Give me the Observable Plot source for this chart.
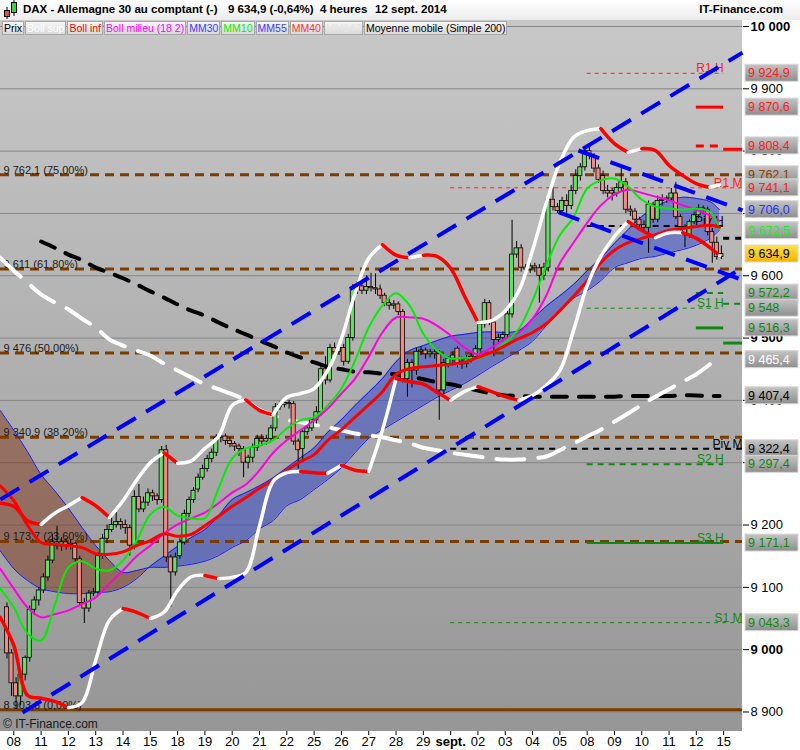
<!DOCTYPE html>
<html>
<head>
<meta charset="utf-8">
<script src="https://cdn.jsdelivr.net/npm/d3@7"></script>
<script src="https://cdn.jsdelivr.net/npm/@observablehq/plot@0.6"></script>
<style>
  body { margin: 0; background: #fff; font-family: "Liberation Sans", Arial, sans-serif; }
  #header { position: relative; width: 800px; height: 20px; background: linear-gradient(#ffffff, #ececec); }
  #header span { position: absolute; top: 3px; font-size: 11.5px; font-weight: bold; color: #000; white-space: nowrap; }
  #wrap { position: relative; width: 800px; height: 730px; }
  #bg { position: absolute; left: 0; top: 0; width: 742px; height: 711px; background: linear-gradient(#c8c8c8, #969696); }
  #chart { position: absolute; left: 0; top: 0; }
  #legend { position: absolute; left: 2px; top: 1px; display: flex; }
  #legend span { font-size: 10.5px; line-height: 12px; height: 12px; padding: 0 1px; border: 1px solid #a8a8a8; margin-right: 1px; background: linear-gradient(#f6f6f6, #d8d8d8); white-space: nowrap; }
  #copy { position: absolute; left: 3px; top: 697px; font-size: 12px; color: #1a1a1a; }
</style>
</head>
<body>
<div id="header">
  <svg width="18" height="19" style="position:absolute;left:2px;top:0">
    <line x1="5" y1="7" x2="5" y2="19" stroke="#000"/>
    <rect x="2.5" y="10.5" width="5" height="6" fill="#e05050" stroke="#000"/>
    <line x1="12" y1="0" x2="12" y2="16" stroke="#000"/>
    <rect x="9.5" y="2.5" width="5" height="10" fill="#40d040" stroke="#000"/>
  </svg>
  <span style="left:23px">DAX - Allemagne 30 au comptant (-)</span>
  <span style="left:228px">9 634,9 (-0,64%)</span>
  <span style="left:320px">4 heures</span>
  <span style="left:375px">12 sept. 2014</span>
  <span style="right:17px">IT-Finance.com</span>
</div>
<div id="wrap">
  <div id="bg"></div>
  <div id="chart"></div>
  <div id="legend"></div>
  <div id="copy">© IT-Finance.com</div>
</div>
<script>
// ---- axis labels ----
const dayLabels = ["08","11","12","13","14","15","18","19","20","21","22","25","26","27","28","29","sept.","02","03","04","05","08","09","10","11","12","15"];
const yTicks = [8900, 9000, 9100, 9200, 9300, 9400, 9500, 9600, 9700, 9800, 9900, 10000];

// ---- 4h candles (2 bars of Aug 7, then 6 bars per day, Aug 8 .. Sep 12) ----
const candleOpen = [9068,8994,
  8946,8925,8960,8987,9064,9079, 9095,9116,9143,9172,9166,9172, 9168,9170,9145,9075,9066,9090,
  9092,9150,9178,9192,9200,9205, 9200,9195,9167,9245,9225,9236, 9251,9246,9240,9320,9148,9124,
  9150,9172,9218,9240,9257,9276, 9290,9306,9316,9340,9342,9335, 9330,9326,9322,9300,9308,9324,
  9338,9334,9338,9355,9389,9393, 9396,9394,9334,9322,9349,9355, 9368,9381,9450,9432,9484,9478,
  9484,9462,9500,9580,9583,9576, 9582,9580,9578,9568,9556,9552, 9554,9542,9434,9460,9448,9478,
  9480,9474,9477,9474,9416,9458, 9467,9483,9462,9458,9466,9470, 9482,9522,9556,9525,9497,9500,
  9505,9538,9634,9644,9613,9610, 9615,9612,9600,9613,9722,9710, 9704,9720,9712,9736,9760,9774,
  9800,9792,9772,9760,9736,9736, 9732,9741,9750,9706,9703,9690, 9681,9677,9714,9690,9720,9722,
  9724,9732,9694,9678,9665,9686, 9697,9708,9706,9670,9653,9630];
const candleHigh = [9075,9000,
  8955,8965,8990,9070,9085,9100, 9122,9150,9185,9198,9180,9178, 9176,9172,9150,9082,9095,9098,
  9155,9185,9200,9215,9220,9210, 9208,9200,9255,9265,9245,9258, 9256,9250,9326,9328,9152,9155,
  9178,9224,9245,9260,9282,9296, 9312,9322,9345,9348,9346,9340, 9334,9330,9326,9312,9330,9344,
  9345,9344,9360,9395,9398,9402, 9400,9398,9338,9352,9360,9372, 9390,9458,9470,9490,9492,9490,
  9490,9506,9586,9590,9590,9600, 9604,9603,9585,9572,9562,9560, 9558,9546,9466,9465,9484,9486,
  9484,9482,9482,9480,9466,9470, 9478,9486,9470,9472,9478,9488, 9528,9562,9560,9530,9506,9510,
  9545,9689,9655,9650,9618,9622, 9620,9618,9620,9730,9742,9716, 9726,9730,9745,9770,9780,9805,
  9806,9796,9778,9768,9745,9740, 9748,9774,9756,9712,9708,9694, 9688,9720,9718,9728,9730,9728,
  9740,9750,9698,9682,9690,9702, 9714,9712,9710,9676,9662,9648];
const candleLow = [8985,8925,
  8904,8910,8950,8980,9055,9070, 9090,9110,9138,9160,9158,9160, 9160,9140,9070,9042,9060,9085,
  9085,9145,9170,9188,9195,9192, 9185,9150,9160,9220,9220,9230, 9238,9232,9235,9140,9068,9118,
  9145,9168,9212,9235,9252,9272, 9285,9300,9310,9332,9328,9324, 9318,9310,9276,9290,9300,9318,
  9326,9328,9332,9350,9384,9388, 9386,9328,9290,9300,9344,9350, 9362,9375,9425,9428,9470,9472,
  9455,9458,9495,9570,9570,9570, 9574,9570,9562,9550,9545,9546, 9536,9428,9405,9420,9440,9472,
  9466,9468,9466,9368,9410,9452, 9458,9452,9450,9452,9460,9465, 9478,9516,9520,9470,9490,9494,
  9498,9532,9628,9606,9600,9604, 9605,9556,9592,9606,9704,9700, 9698,9700,9706,9730,9752,9768,
  9786,9765,9748,9730,9725,9720, 9726,9735,9700,9695,9684,9676, 9670,9636,9684,9685,9712,9716,
  9720,9690,9672,9645,9660,9682, 9692,9698,9664,9620,9625,9626];
const candleClose = [8994,8946,
  8925,8960,8987,9064,9079,9095, 9116,9143,9172,9166,9172,9168, 9170,9145,9075,9066,9090,9092,
  9150,9178,9192,9200,9205,9200, 9195,9167,9245,9225,9236,9251, 9246,9240,9320,9148,9124,9148,
  9172,9218,9240,9255,9276,9290, 9306,9316,9340,9342,9335,9330, 9326,9322,9300,9308,9324,9338,
  9334,9338,9355,9389,9393,9396, 9394,9334,9320,9349,9355,9368, 9381,9450,9432,9484,9478,9484,
  9462,9500,9580,9583,9576,9582, 9580,9578,9568,9556,9552,9554, 9542,9434,9460,9448,9478,9480,
  9474,9477,9474,9416,9460,9467, 9472,9459,9458,9466,9470,9482, 9522,9556,9525,9497,9500,9505,
  9538,9634,9644,9613,9610,9615, 9612,9600,9613,9722,9710,9704, 9720,9712,9736,9760,9774,9800,
  9792,9772,9754,9736,9732,9732, 9741,9750,9706,9703,9690,9681, 9677,9714,9690,9720,9722,9724,
  9732,9694,9678,9665,9686,9697, 9708,9706,9670,9653,9630,9634.9];

// ---- indicators, sampled every half day (day 0 = Aug 8) ----
const grid = [-0.5,0,0.5,1,1.5,2,2.5,3,3.5,4,4.5,5,5.5,6,6.5,7,7.5,8,8.5,9,9.5,10,10.5,11,11.5,12,12.5,
  13,13.5,14,14.5,15,15.5,16,16.5,17,17.5,18,18.5,19,19.5,20,20.5,21,21.5,22,22.5,23,23.5,24,24.5,25,25.5,25.85];
const bollSup = [9235,9230,9207,9201,9219,9231,9244,9231,9212,9239,
  9272,9300,9316,9299,9303,9323,9342,9392,9401,9384,
  9377,9405,9411,9419,9448,9499,9572,9628,9650,9633,
  9629,9633,9631,9612,9568,9525,9528,9544,9576,9641,
  9716,9782,9822,9833,9836,9812,9798,9804,9801,9777,
  9761,9748,9742,9746];
const bollInf = [9052,9007,8927,8922,8917,8907,8915,8983,9047,9066,
  9060,9050,9060,9095,9117,9119,9114,9116,9124,9199,
  9270,9284,9286,9284,9283,9296,9288,9286,9352,9435,
  9430,9426,9413,9400,9414,9422,9414,9406,9400,9408,
  9424,9448,9512,9584,9631,9663,9687,9673,9661,9669,
  9669,9660,9645,9632];
const bollMid = [9130,9098,9068,9052,9057,9063,9073,9084,9106,9127,
  9150,9167,9186,9201,9211,9220,9235,9252,9265,9288,
  9316,9336,9352,9368,9387,9411,9435,9470,9509,9533,
  9533,9531,9520,9504,9485,9474,9485,9499,9509,9531,
  9568,9620,9653,9685,9713,9730,9738,9733,9727,9721,
  9713,9706,9697,9688];
const mm10 = [9098,9068,9026,9015,9072,9132,9142,9130,9127,9143,
  9175,9217,9229,9215,9211,9211,9259,9307,9323,9328,
  9336,9355,9368,9373,9392,9419,9464,9517,9552,9572,
  9552,9507,9480,9467,9469,9467,9477,9493,9515,9560,
  9616,9665,9694,9740,9753,9756,9743,9722,9711,9708,
  9706,9708,9702,9675];
const mm30 = [9159,9130,9111,9098,9093,9090,9090,9092,9093,9100,
  9114,9134,9150,9166,9180,9193,9215,9241,9252,9263,
  9276,9292,9308,9324,9349,9369,9392,9413,9435,9462,
  9480,9488,9496,9503,9506,9509,9510,9509,9512,9531,
  9551,9568,9586,9608,9628,9652,9674,9695,9710,9721,
  9726,9724,9719,9706];
const mm40 = [9263,9239,9200,9172,9169,9167,9164,9154,9153,9157,
  9167,9175,9186,9182,9185,9199,9214,9230,9244,9259,
  9272,9288,9302,9313,9336,9353,9373,9393,9414,9442,
  9451,9454,9456,9458,9461,9469,9477,9488,9499,9509,
  9523,9544,9567,9592,9621,9641,9653,9660,9666,9673,
  9676,9679,9681,9678];
const mm55 = [9384,9352,9318,9281,9255,9227,9196,9167,9143,9124,
  9127,9132,9132,9134,9137,9142,9151,9164,9175,9194,
  9207,9231,9241,9257,9273,9292,9316,9339,9353,9366,
  9379,9392,9405,9416,9427,9440,9454,9467,9480,9495,
  9520,9544,9564,9576,9592,9613,9621,9628,9631,9637,
  9642,9649,9660,9673];
const mm147 = [9629,9608,9589,9570,9557,9546,9531,9517,9498,9488,
  9480,9472,9459,9448,9437,9426,9418,9410,9400,9385,
  9376,9369,9365,9361,9357,9352,9347,9344,9341,9336,
  9331,9324,9320,9316,9313,9310,9307,9305,9305,9307,
  9310,9320,9331,9342,9353,9366,9379,9393,9406,9418,
  9430,9442,9458,null];
const mm200 = [null,null,null,9655,9645,9634,9625,9613,9605,9596,
  9586,9575,9565,9554,9544,9536,9525,9515,9506,9496,
  9487,9477,9469,9461,9454,9450,9446,9445,9443,9442,
  9438,9434,9429,9426,9421,9416,9411,9408,9407,9406,
  9406,9406,9406,9406,9406,9406,9407,9407,9407,9407,
  9408,9408,9407,9407];

// ---- Fibonacci retracements ----
const fibValues = [9762.1, 9611.0, 9476.0, 9340.9, 9173.7];
const fibLabels = ["9 762,1 (75,00%)", "9 611 (61,80%)", "9 476 (50,00%)", "9 340,9 (38,20%)", "9 173,7 (23,60%)"];
const fibBase = 8903.6;
const fibBaseLabel = "8 903,6 (0,00%)";

// ---- pivot levels (H = weekly, M = monthly, unnamed = daily) ----
const pivNames  = ["R1 H","R1 M","Piv H","S1 H","Piv M","S2 H","S3 H","S1 M","","","","","","","",""];
const pivValues = [9924.9,9741.1,9680,9548,9322.4,9297.4,9171.1,9043.3,9870.6,9808.4,9803,9660,9572.2,9555,9516.3,9492];
const pivStart  = [21,16,21,21,16,21,21,16,25,25,26,26,25,26,25,26];
const pivEnd    = [26,26.69,26,26,26.69,26,26,26.69,26,25.85,26.69,26.69,26,26.69,26,26.69];
const pivColors = ["#ff2020","#ff2020","#000000","#118811","#000000","#118811","#118811","#118811",
  "#ff0000","#ff0000","#ff0000","#000000","#118811","#118811","#118811","#118811"];
const pivWidths = [1,1,2,1,2,2,2,1,3,3,3,3,2,2,3,3];
const pivDash   = ["4,4","4,4","6,5","4,4","6,5","6,5","none","4,4","none","8,6","none","6,6","6,5","6,5","none","none"];

// ---- trend channels ----
const chanStartT = [-0.49, 0.32, 20.68, 19.95];
const chanStartV = [9241, 8899, 9801, 9702];
const chanEndT   = [26.69, 26.69, 26.69, 26.69];
const chanEndV   = [9958, 9613, 9705, 9593];

// ---- value tags on the right ----
const tagValues = [9924.9,9870.6,9808.4,9762.1,9741.1,9706.0,9672.5,9634.9,9572.2,9548.0,9516.3,9465.4,9407.4,9322.4,9297.4,9171.1,9043.3];
const tagTexts  = ["9 924,9","9 870,6","9 808,4","9 762,1","9 741,1","9 706,0","9 672,5","9 634,9","9 572,2","9 548","9 516,3","9 465,4","9 407,4","9 322,4","9 297,4","9 171,1","9 043,3"];
const tagColors = ["#ff2020","#ff2020","#ff2020","#8b4000","#ff2020","#2233ff","#22ee22","#000000","#118811","#118811","#118811","#ffffff","#000000","#000000","#118811","#118811","#118811"];

const legendNames  = ["Prix","Boll sup","Boll inf","Boll milieu (18 2)","MM30","MM10","MM55","MM40","MM147","Moyenne mobile (Simple 200)"];
const legendColors = ["#000","#fff","#ff0000","#ff00ff","#3a3aff","#00ee00","#3a3aff","#ff3030","#e4e4e4","#000"];

// ---- build ----
const legend = document.getElementById("legend");
legendNames.forEach(function (n, i) {
  const s = document.createElement("span");
  s.textContent = n;
  s.style.color = legendColors[i];
  legend.appendChild(s);
});

const candles = candleOpen.map(function (o, i) {
  const t = i < 2 ? -1 + (i + 4.5) / 6 : Math.floor((i - 2) / 6) + (((i - 2) % 6) + 0.5) / 6;
  return {t: t, open: o, high: candleHigh[i], low: candleLow[i], close: candleClose[i]};
});

const rows = grid.map(function (t, i) {
  return {t: t, bup: bollSup[i], binf: bollInf[i], bmid: bollMid[i], mm10: mm10[i], mm30: mm30[i],
    mm40: mm40[i], mm55: mm55[i], mm147: mm147[i], mm200: mm200[i]};
});

const levels = pivValues.map(function (v, i) {
  return {name: pivNames[i], v: v, s: pivStart[i], e: pivEnd[i], color: pivColors[i], w: pivWidths[i], dash: pivDash[i]};
});
const fibs = fibValues.map(function (v, i) { return {v: v, label: fibLabels[i]}; });
const chans = chanStartT.map(function (t, i) { return {t1: t, v1: chanStartV[i], t2: chanEndT[i], v2: chanEndV[i]}; });

// white while the band rises, red while it falls
function slopeColor(key) {
  return function (d, i) {
    return i < rows.length - 1 && rows[i + 1][key] < d[key] ? "#ff0000" : "#ffffff";
  };
}
const fmt = function (d) { return d3.format(",")(d).replace(",", " "); };
const curve = "catmull-rom";

const svg = Plot.plot({
  width: 800,
  height: 730,
  marginLeft: 0,
  marginRight: 58,
  marginTop: 0,
  marginBottom: 19,
  style: {background: "transparent", fontFamily: "Liberation Sans, Arial, sans-serif", fontSize: "13px", color: "#000", overflow: "visible"},
  x: {domain: [-0.487, 26.69], axis: null},
  y: {domain: [8868.7, 10009.6], axis: null},
  marks: [
    Plot.gridY(yTicks, {stroke: "#858585", strokeOpacity: 1}),
    Plot.areaY(rows.filter(function (d) { return d.t <= 5; }), {x: "t", y1: "mm55", y2: "mm30", fill: "#7a1e00", fillOpacity: 0.42, curve: curve}),
    Plot.areaY(rows.filter(function (d) { return d.t >= 5; }), {x: "t", y1: "mm55", y2: "mm30", fill: "#2a40c8", fillOpacity: 0.5, curve: curve}),
    Plot.ruleY(fibs, {y: "v", stroke: "#7b3c00", strokeWidth: 3, strokeDasharray: "9,6"}),
    Plot.ruleY([fibBase], {stroke: "#7b3c00", strokeWidth: 3}),
    Plot.text(fibs, {y: "v", text: "label", frameAnchor: "left", textAnchor: "start", lineAnchor: "bottom", dx: 3, dy: -1, fill: "#1a1a1a", fontSize: 11}),
    Plot.text([fibBase], {y: function (d) { return d; }, text: function () { return fibBaseLabel; }, frameAnchor: "left", textAnchor: "start", lineAnchor: "bottom", dx: 3, dy: -1, fill: "#1a1a1a", fontSize: 11}),
    ...levels.map(function (l) {
      return Plot.ruleY([l], {y: "v", x1: "s", x2: "e", stroke: l.color, strokeWidth: l.w, strokeDasharray: l.dash});
    }),
    Plot.text(levels.filter(function (l) { return l.name; }), {x: "e", y: "v", text: "name", fill: "color", textAnchor: "end", lineAnchor: "bottom", dy: -1, fontSize: 12}),
    Plot.line(rows, {x: "t", y: "mm30", stroke: "#1a1aff", strokeWidth: 1, curve: curve}),
    Plot.line(rows, {x: "t", y: "mm55", stroke: "#1a1aff", strokeWidth: 1, curve: curve}),
    Plot.line(rows, {x: "t", y: "mm200", stroke: "#000", strokeWidth: 4, strokeDasharray: "15,12", curve: curve}),
    Plot.line(rows, {x: "t", y: "mm147", stroke: "#fff", strokeWidth: 4, strokeDasharray: "28,14", curve: curve}),
    Plot.ruleX(candles, {x: "t", y1: "low", y2: "high", stroke: "#000", strokeWidth: 1}),
    Plot.rect(candles, {
      x1: function (d) { return d.t - 0.075; },
      x2: function (d) { return d.t + 0.075; },
      y1: "open", y2: "close",
      fill: function (d) { return d.close >= d.open ? "#66dd66" : "#f08a82"; },
      stroke: "#000", strokeWidth: 0.8
    }),
    Plot.line(rows, {x: "t", y: "bmid", stroke: "#ff00e0", strokeWidth: 2, curve: curve}),
    Plot.line(rows, {x: "t", y: "mm10", stroke: "#00ee00", strokeWidth: 2, curve: curve}),
    Plot.line(rows, {x: "t", y: "mm40", stroke: "#ff0000", strokeWidth: 3, curve: curve}),
    Plot.line(rows, {x: "t", y: "bup", z: null, stroke: slopeColor("bup"), strokeWidth: 3.5, curve: curve}),
    Plot.line(rows, {x: "t", y: "binf", z: null, stroke: slopeColor("binf"), strokeWidth: 3.5, curve: curve}),
    Plot.link(chans, {x1: "t1", y1: "v1", x2: "t2", y2: "v2", stroke: "#0000ff", strokeWidth: 4, strokeDasharray: "22,12"}),
    Plot.axisY(yTicks, {anchor: "right", tickFormat: fmt, tickSize: 6, tickPadding: 2, fontSize: 13, label: null}),
    Plot.axisX(dayLabels.map(function (_, i) { return i; }), {anchor: "bottom", tickFormat: function (i) { return dayLabels[i]; }, tickSize: 4, tickPadding: 1, fontSize: 13, label: null})
  ]
});

// value tags on the right margin, placed with the plot's y scale
const ys = svg.scale("y");
const root = d3.select(svg);
const defs = root.append("defs");
const gGray = defs.append("linearGradient").attr("id", "tagGray").attr("x1", 0).attr("y1", 0).attr("x2", 0).attr("y2", 1);
gGray.append("stop").attr("offset", "0%").attr("stop-color", "#c4c4c4");
gGray.append("stop").attr("offset", "100%").attr("stop-color", "#8e8e8e");
const gYel = defs.append("linearGradient").attr("id", "tagYellow").attr("x1", 0).attr("y1", 0).attr("x2", 0).attr("y2", 1);
gYel.append("stop").attr("offset", "0%").attr("stop-color", "#ffe24a");
gYel.append("stop").attr("offset", "100%").attr("stop-color", "#f0b400");

const tags = root.append("g").attr("font-size", 12.5).attr("text-anchor", "start")
  .attr("font-family", "Liberation Sans, Arial, sans-serif");
tagValues.forEach(function (v, i) {
  const y = ys.apply(v);
  tags.append("rect").attr("x", 745).attr("y", y - 8.5).attr("width", 53).attr("height", 17)
    .attr("fill", tagTexts[i] === "9 634,9" ? "url(#tagYellow)" : "url(#tagGray)").attr("stroke", "#d8d8d8");
  tags.append("text").attr("x", 748).attr("y", y + 4.5).attr("fill", tagColors[i]).text(tagTexts[i]);
});

root.selectAll("text").filter(function () {
  return ["10 000", "9 500", "9 000", "sept."].indexOf(this.textContent) >= 0;
}).attr("font-weight", "bold");

document.getElementById("chart").appendChild(svg);
</script>
</body>
</html>
